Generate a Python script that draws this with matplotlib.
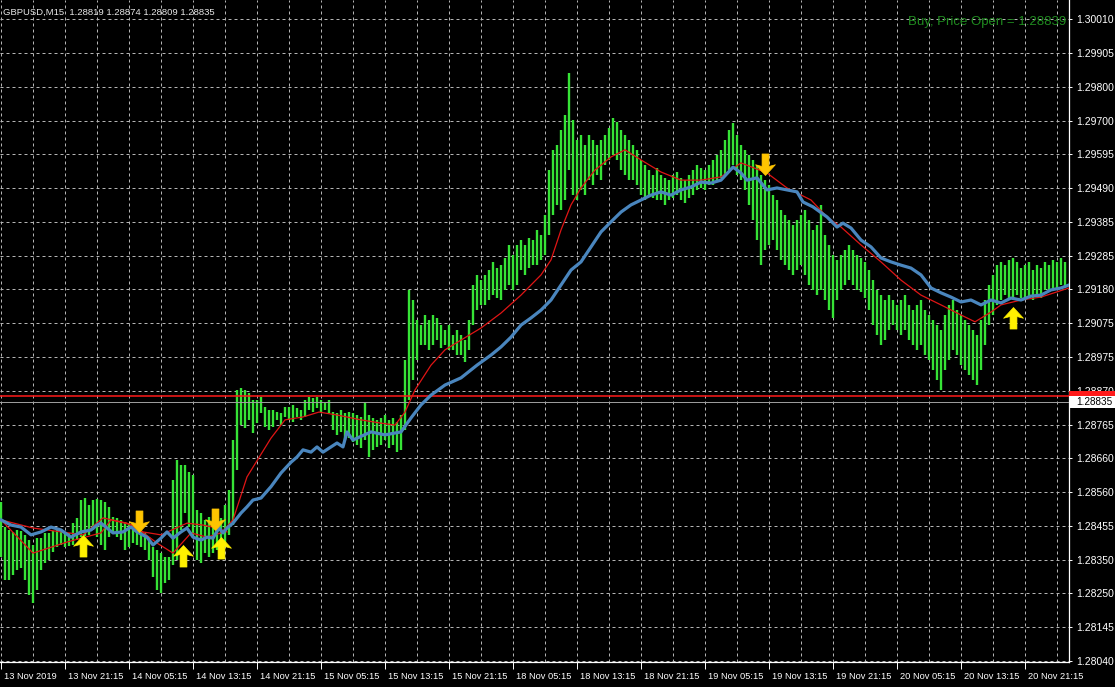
import numpy as np
import matplotlib
matplotlib.use("Agg")
import matplotlib.pyplot as plt
from matplotlib.path import Path
from matplotlib.patches import Rectangle
import matplotlib.transforms as mtransforms

plt.rcParams['font.family'] = ['Liberation Sans', 'DejaVu Sans']

# ---------------- data ----------------
symbol_title = "GBPUSD,M15  1.28819 1.28874 1.28809 1.28835"
order_text = "Buy, Price Open = 1.28839"

# green bars: one bar every 2 M15 bars (bar index 0,2,4,...)
green_high = [
 1.28528,1.28451,1.28442,1.28436,1.28442,1.28439,1.28427,1.28411,1.28396,1.28417,
 1.28417,1.28433,1.28433,1.28439,1.28442,1.28442,1.28436,1.28433,1.28463,1.28479,
 1.28534,1.28540,1.28519,1.28534,1.28537,1.28534,1.28528,1.28513,1.28482,1.28479,
 1.28473,1.28467,1.28463,1.28442,1.28436,1.28442,1.28433,1.28420,1.28390,1.28381,
 1.28371,1.28359,1.28359,1.28595,1.28657,1.28641,1.28641,1.28620,1.28611,1.28503,
 1.28494,1.28473,1.28482,1.28473,1.28494,1.28479,1.28519,1.28565,1.28718,1.28872,
 1.28878,1.28872,1.28862,1.28841,1.28841,1.28850,1.28819,1.28810,1.28810,1.28804,
 1.28801,1.28819,1.28819,1.28826,1.28816,1.28810,1.28841,1.28850,1.28847,1.28850,
 1.28841,1.28835,1.28841,1.28804,1.28801,1.28810,1.28801,1.28804,1.28801,1.28795,
 1.28789,1.28835,1.28795,1.28786,1.28780,1.28786,1.28795,1.28780,1.28786,1.28773,
 1.28795,1.28964,1.29179,1.29148,1.29087,1.29071,1.29102,1.29087,1.29102,1.29093,
 1.29071,1.29056,1.29071,1.29041,1.29056,1.29041,1.29025,1.29087,1.29194,1.29225,
 1.29209,1.29225,1.29240,1.29265,1.29246,1.29255,1.29277,1.29317,1.29286,1.29317,
 1.29332,1.29317,1.29338,1.29332,1.29363,1.29348,1.29409,1.29547,1.29608,1.29624,
 1.29670,1.29716,1.29845,1.29701,1.29639,1.29655,1.29624,1.29655,1.29639,1.29624,
 1.29639,1.29655,1.29676,1.29707,1.29694,1.29670,1.29655,1.29639,1.29624,1.29608,
 1.29578,1.29562,1.29547,1.29532,1.29553,1.29532,1.29523,1.29516,1.29532,1.29541,
 1.29523,1.29516,1.29532,1.29547,1.29562,1.29553,1.29547,1.29562,1.29578,1.29593,
 1.29608,1.29639,1.29670,1.29691,1.29655,1.29624,1.29608,1.29593,1.29578,1.29562,
 1.29532,1.29516,1.29501,1.29470,1.29455,1.29424,1.29409,1.29394,1.29378,1.29394,
 1.29409,1.29424,1.29394,1.29363,1.29378,1.29440,1.29348,1.29317,1.29286,1.29271,
 1.29286,1.29302,1.29317,1.29302,1.29286,1.29277,1.29265,1.29240,1.29209,1.29179,
 1.29163,1.29148,1.29163,1.29148,1.29133,1.29148,1.29163,1.29133,1.29117,1.29133,
 1.29148,1.29117,1.29102,1.29087,1.29071,1.29056,1.29102,1.29133,1.29148,1.29117,
 1.29102,1.29087,1.29071,1.29056,1.29041,1.29087,1.29148,1.29194,1.29225,1.29255,
 1.29265,1.29255,1.29271,1.29277,1.29265,1.29246,1.29255,1.29265,1.29240,1.29255,
 1.29246,1.29265,1.29255,1.29271,1.29265,1.29277,1.29265]

green_low = [
 1.28359,1.28288,1.28288,1.28304,1.28319,1.28325,1.28288,1.28242,1.28218,1.28258,
 1.28319,1.28341,1.28350,1.28374,1.28390,1.28396,1.28390,1.28393,1.28396,1.28411,
 1.28420,1.28424,1.28427,1.28442,1.28420,1.28396,1.28381,1.28420,1.28433,1.28420,
 1.28411,1.28381,1.28390,1.28402,1.28396,1.28390,1.28381,1.28350,1.28298,1.28258,
 1.28249,1.28279,1.28288,1.28334,1.28350,1.28442,1.28494,1.28451,1.28420,1.28350,
 1.28341,1.28371,1.28359,1.28371,1.28381,1.28381,1.28402,1.28427,1.28457,1.28626,
 1.28764,1.28755,1.28780,1.28740,1.28770,1.28801,1.28758,1.28749,1.28758,1.28780,
 1.28764,1.28789,1.28780,1.28773,1.28789,1.28780,1.28789,1.28810,1.28804,1.28816,
 1.28804,1.28810,1.28801,1.28749,1.28734,1.28743,1.28718,1.28724,1.28712,1.28703,
 1.28694,1.28718,1.28666,1.28688,1.28697,1.28703,1.28718,1.28694,1.28703,1.28681,
 1.28688,1.28749,1.28841,1.28902,1.28964,1.29010,1.29010,1.28995,1.29010,1.29025,
 1.29001,1.29010,1.28995,1.28995,1.28979,1.28979,1.28958,1.28995,1.29071,1.29117,
 1.29133,1.29133,1.29148,1.29163,1.29154,1.29148,1.29179,1.29194,1.29179,1.29194,
 1.29240,1.29225,1.29246,1.29255,1.29255,1.29271,1.29286,1.29348,1.29409,1.29440,
 1.29424,1.29455,1.29547,1.29470,1.29455,1.29486,1.29470,1.29516,1.29501,1.29532,
 1.29516,1.29562,1.29578,1.29593,1.29578,1.29547,1.29532,1.29516,1.29516,1.29501,
 1.29470,1.29455,1.29470,1.29461,1.29455,1.29455,1.29440,1.29455,1.29461,1.29470,
 1.29455,1.29446,1.29461,1.29470,1.29486,1.29492,1.29486,1.29501,1.29501,1.29516,
 1.29523,1.29532,1.29547,1.29562,1.29532,1.29516,1.29486,1.29440,1.29394,1.29332,
 1.29255,1.29302,1.29317,1.29332,1.29302,1.29271,1.29255,1.29240,1.29225,1.29240,
 1.29255,1.29225,1.29194,1.29179,1.29163,1.29179,1.29148,1.29117,1.29093,1.29148,
 1.29179,1.29194,1.29209,1.29194,1.29179,1.29173,1.29154,1.29117,1.29071,1.29041,
 1.29010,1.29025,1.29056,1.29071,1.29056,1.29041,1.29056,1.29025,1.29010,1.28995,
 1.29010,1.28979,1.28964,1.28933,1.28902,1.28872,1.28933,1.28964,1.28995,1.28979,
 1.28948,1.28933,1.28918,1.28902,1.28887,1.28933,1.29010,1.29071,1.29102,1.29133,
 1.29148,1.29163,1.29154,1.29148,1.29163,1.29154,1.29148,1.29154,1.29148,1.29163,
 1.29154,1.29179,1.29173,1.29185,1.29179,1.29194,1.29185]

bar_index = np.arange(0, 2 * len(green_high), 2)

# thick steel-blue indicator line (bar index, price)
blue_idx = [0,5,10,15,20,25,30,35,40,45,48,50,53,56,61,65,68,73,76,80,
            83,86,90,93,96,100,103,106,109,111,113,116,120,123,126,130,135,140,145,148,
            151,155,158,161,165,168,171,173,176,178,185,192,200,205,210,215,222,230,238,245,
            250,255,260,265,270,275,280,285,290,295,300,305,310,315,320,325,330,335,340,345,
            350,355,360,366,370,373,378,383,388,393,398,401,406,413,418,421,425,430,435,440,
            445,450,455,460,465,470,475,480,485,490,495,500,505,510,515,520,525,530,534]
blue_val = [1.28473,1.28457,1.28451,1.28427,1.28436,1.28451,1.28442,1.28420,1.28436,1.28442,
            1.28457,1.28463,1.28448,1.28433,1.28436,1.28451,1.28436,1.28420,1.28396,1.28417,
            1.28436,1.28417,1.28436,1.28448,1.28420,1.28411,1.28420,1.28417,1.28448,1.28433,
            1.28448,1.28463,1.28494,1.28513,1.28534,1.28540,1.28575,1.28617,1.28650,1.28666,
            1.28688,1.28681,1.28697,1.28681,1.28697,1.28709,1.28697,1.28743,1.28718,1.28724,
            1.28743,1.28734,1.28743,1.28786,1.28826,1.28856,1.28887,1.28909,1.28948,1.28979,
            1.29004,1.29034,1.29071,1.29093,1.29117,1.29148,1.29194,1.29240,1.29265,1.29311,
            1.29357,1.29388,1.29418,1.29440,1.29455,1.29470,1.29480,1.29470,1.29486,1.29495,
            1.29510,1.29507,1.29516,1.29556,1.29538,1.29516,1.29523,1.29486,1.29492,1.29486,
            1.29480,1.29449,1.29434,1.29403,1.29372,1.29384,1.29369,1.29332,1.29311,1.29277,
            1.29265,1.29255,1.29246,1.29225,1.29185,1.29170,1.29157,1.29142,1.29148,1.29133,
            1.29148,1.29139,1.29154,1.29148,1.29160,1.29163,1.29179,1.29185,1.29194]

# thin red moving average
red_idx = [0,16,33,50,55,66,78,86,95,103,110,116,123,135,142,151,159,168,180,190,
           197,202,207,215,222,230,240,250,260,270,275,280,285,290,297,305,312,320,330,340,
           350,360,370,383,393,405,413,420,430,440,450,460,470,480,487,495,500,510,520,534]
red_val = [1.28473,1.28371,1.28405,1.28433,1.28473,1.28457,1.28402,1.28371,1.28433,1.28420,
           1.28433,1.28473,1.28605,1.28724,1.28780,1.28789,1.28804,1.28795,1.28780,1.28770,
           1.28764,1.28804,1.28872,1.28948,1.28995,1.29025,1.29062,1.29108,1.29163,1.29225,
           1.29271,1.29363,1.29440,1.29492,1.29547,1.29587,1.29609,1.29578,1.29541,1.29516,
           1.29516,1.29526,1.29569,1.29538,1.29492,1.29455,1.29403,1.29372,1.29317,1.29265,
           1.29209,1.29163,1.29133,1.29102,1.29081,1.29111,1.29133,1.29148,1.29157,1.29185]

# second red average, visible only at the start
red2_idx = [0,16,41,51,63,71,80,93,101,108,113]
red2_val = [1.28473,1.28448,1.28427,1.28479,1.28463,1.28436,1.28427,1.28463,1.28457,1.28448,1.28436]

# signal arrows (bar index, price at arrow tip)
up_idx = [41, 91, 110, 506]
up_val = [1.28427, 1.28396, 1.28420, 1.29127]
down_idx = [69, 107, 382]
down_val = [1.28436, 1.28442, 1.29532]

# horizontal levels
order_level = 1.28853
bid_level = 1.28835

# axis labels
price_ticks = [1.30010,1.29905,1.29800,1.29700,1.29595,1.29490,1.29385,1.29285,1.29180,1.29075,
               1.28975,1.28870,1.28765,1.28660,1.28560,1.28455,1.28350,1.28250,1.28145,1.28040]
time_labels = ["13 Nov 2019","13 Nov 21:15","14 Nov 05:15","14 Nov 13:15","14 Nov 21:15",
               "15 Nov 05:15","15 Nov 13:15","15 Nov 21:15","18 Nov 05:15","18 Nov 13:15",
               "18 Nov 21:15","19 Nov 05:15","19 Nov 13:15","19 Nov 21:15","20 Nov 05:15",
               "20 Nov 13:15","20 Nov 21:15"]
bars_per_label = 32

# ---------------- figure ----------------
W, H = 1115, 687
fig = plt.figure(figsize=(W / 100, H / 100), dpi=100, facecolor='black')
ax = fig.add_axes([0, 25 / H, 1069 / W, 662 / H], facecolor='black')

y_top, y_bot = 1.30069, 1.280367
ax.set_ylim(y_bot, y_top)
ax.set_xlim(-0.5, 534.0)

tick_pos = np.linspace(price_ticks[-1], price_ticks[0], len(price_ticks))[::-1]
ax.set_yticks(tick_pos)
ax.set_yticklabels([f"{v:.5f}" for v in price_ticks])
ax.yaxis.tick_right()

label_pos = [i * bars_per_label for i in range(len(time_labels))]
ax.set_xticks(label_pos)
ax.set_xticklabels(time_labels)
ax.set_xticks([p + bars_per_label / 2 for p in label_pos], minor=True)

grid_kw = dict(color='#B4B4B4', linewidth=0.72, linestyle=(0, (3, 3)))
ax.grid(True, which='major', axis='both', **grid_kw)
ax.grid(True, which='minor', axis='x', **grid_kw)
ax.set_axisbelow(True)

for s in ['left', 'top']:
    ax.spines[s].set_visible(False)
for s in ['right', 'bottom']:
    ax.spines[s].set_color('white')
    ax.spines[s].set_linewidth(0.9)

ax.tick_params(axis='y', colors='white', labelsize=7.5, length=2.5, width=0.7, pad=2.5,
               labelcolor='white')
ax.tick_params(axis='x', which='major', colors='white', labelsize=6.7, length=5, width=0.7,
               pad=2.5, labelcolor='white')
ax.tick_params(axis='x', which='minor', length=0)
offset = mtransforms.ScaledTranslation(3 / 100, 0, fig.dpi_scale_trans)
for lab in ax.get_xticklabels():
    lab.set_horizontalalignment('left')
    lab.set_transform(lab.get_transform() + offset)

# green bars
ax.vlines(bar_index, green_low, green_high, colors='#36E336', linewidth=1.7, zorder=3)

# horizontal levels
ax.axhline(order_level, color='#FF1A1A', linewidth=1.1, zorder=4)
ax.axhline(bid_level, color='#A0A0A0', linewidth=0.7, zorder=4)

# lines
ax.plot(red2_idx, red2_val, color='#E01515', linewidth=0.9, zorder=5)
ax.plot(red_idx, red_val, color='#E01515', linewidth=0.9, zorder=5)
ax.plot(blue_idx, blue_val, color='#4A86BE', linewidth=2.3, zorder=6, solid_joinstyle='round')

# arrows
up_path = Path([(0, 0), (0.46, -0.5), (0.16, -0.42), (0.16, -1.0), (-0.16, -1.0),
                (-0.16, -0.42), (-0.46, -0.5), (0, 0)],
               [Path.MOVETO] + [Path.LINETO] * 6 + [Path.CLOSEPOLY])
down_path = Path([(0, 0), (0.46, 0.5), (0.16, 0.42), (0.16, 1.0), (-0.16, 1.0),
                  (-0.16, 0.42), (-0.46, 0.5), (0, 0)],
                 [Path.MOVETO] + [Path.LINETO] * 6 + [Path.CLOSEPOLY])
ax.plot(up_idx, up_val, linestyle='none', marker=up_path, markersize=31,
        markerfacecolor='#FFF000', markeredgecolor='#FFF000', markeredgewidth=0.5, zorder=7)
ax.plot(down_idx, down_val, linestyle='none', marker=down_path, markersize=31,
        markerfacecolor='#FFC400', markeredgecolor='#FFC400', markeredgewidth=0.5, zorder=7)

# price boxes on the axis
box_tr = mtransforms.blended_transform_factory(fig.transFigure, ax.transData)
px_h = (y_top - y_bot) / 662.0
ax.add_patch(Rectangle((1069 / W, order_level - 1 * px_h), 46 / W, 6 * px_h,
                       transform=box_tr, facecolor='#FF1A1A', edgecolor='none',
                       clip_on=False, zorder=8))
ax.add_patch(Rectangle((1069 / W, bid_level - 6 * px_h), 46 / W, 12 * px_h,
                       transform=box_tr, facecolor='white', edgecolor='none',
                       clip_on=False, zorder=10))
ax.text(1076 / W, bid_level - 0.5 * px_h, f"{bid_level:.5f}", transform=box_tr, color='black',
        fontsize=7.2, va='center', ha='left', clip_on=False, zorder=11)

# texts
fig.text(3 / W, 1 - 12 / H, symbol_title, color='#E6E6E6', fontsize=6.8, va='center', ha='left')
fig.text(1066 / W, 1 - 22 / H, order_text, color='#1F8A1F', fontsize=9.5, va='center', ha='right')

fig.savefig('out.png', dpi=100, facecolor='black')
